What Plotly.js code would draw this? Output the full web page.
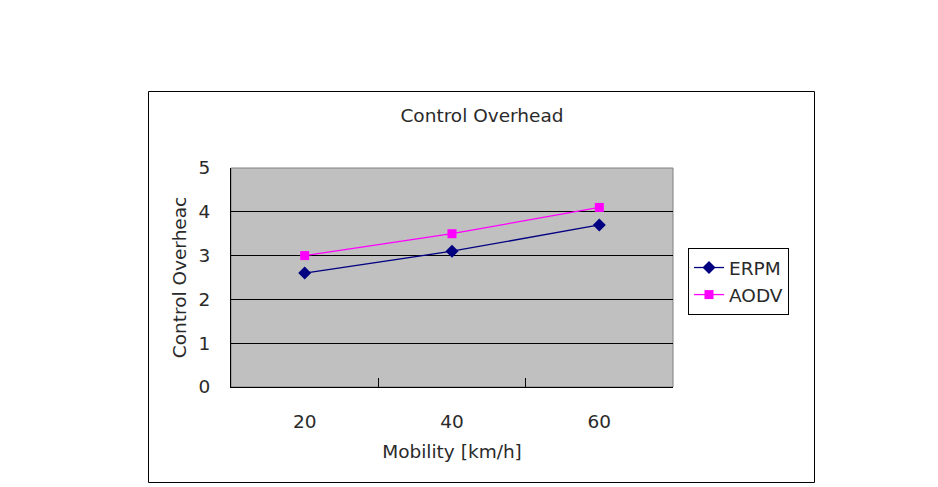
<!DOCTYPE html>
<html>
<head>
<meta charset="utf-8">
<script src="https://cdn.plot.ly/plotly-3.0.1.min.js"></script>
<style>html,body{margin:0;padding:0;background:#fff;}#chart{width:938px;height:487px;}</style>
</head>
<body>
<div id="chart"></div>
<script>
const categories = ["20", "40", "60"];
const erpm = [2.6, 3.1, 3.7];
const aodv = [3.0, 3.5, 4.1];
const yTicks = [0, 1, 2, 3, 4, 5];

const FONT = "DejaVu Sans";
const FS = 18.5;
const FC = "#2a2a2a";
const L = 231, R = 673, T = 168, B = 387, W = 938, H = 487;
const pw = R - L, ph = B - T;
const px = v => (v - L) / pw;
const py = v => (B - v) / ph;

const traces = [
  {
    x: categories, y: erpm, name: "ERPM", type: "scatter", mode: "lines+markers",
    line: {color: "#000080", width: 1.3},
    marker: {symbol: "diamond", size: 10, color: "#000080"}
  },
  {
    x: categories, y: aodv, name: "AODV", type: "scatter", mode: "lines+markers",
    line: {color: "#ff00ff", width: 1.3},
    marker: {symbol: "square", size: 9, color: "#ff00ff"}
  }
];

const layout = {
  width: W, height: H,
  margin: {l: L, r: W - R, t: T, b: H - B, pad: 0},
  paper_bgcolor: "#ffffff",
  plot_bgcolor: "#c0c0c0",
  font: {family: FONT, size: FS, color: FC},
  showlegend: true,
  title: {text: "Control Overhead", font: {family: FONT, size: FS, color: FC},
          xref: "paper", x: px(482), xanchor: "center", yref: "container", y: 1 - 116 / H, yanchor: "middle"},
  xaxis: {
    type: "category", range: [-0.5, 2.5],
    tickson: "boundaries", ticks: "inside", ticklen: 9, tickcolor: "#000", tickwidth: 1,
    showgrid: false, showline: true, linecolor: "#000", linewidth: 1,
    ticklabelstandoff: 18,
    title: {text: "Mobility [km/h]", font: {family: FONT, size: FS, color: FC}, standoff: 13},
    fixedrange: true
  },
  yaxis: {
    range: [0, 5], tickvals: yTicks, ticktext: yTicks.map(String),
    showgrid: true, gridcolor: "#000", gridwidth: 1, zeroline: false,
    showline: true, linecolor: "#000", linewidth: 1, ticks: "",
    ticklabelstandoff: 16,
    title: {text: "Control Overheac", font: {family: FONT, size: FS, color: FC}, standoff: 7},
    fixedrange: true
  },
  legend: {
    x: px(688), xanchor: "left", y: py(248), yanchor: "top",
    bordercolor: "#000", borderwidth: 1, bgcolor: "#fff",
    font: {family: FONT, size: FS, color: FC},
    tracegroupgap: 0, itemwidth: 30
  },
  shapes: [
    {type: "rect", xref: "paper", yref: "paper", x0: 0, x1: 1, y0: 0, y1: 1,
     line: {color: "#808080", width: 1}, layer: "below"},
    {type: "rect", xref: "paper", yref: "paper", x0: px(148.5), x1: px(814.5), y0: py(482.5), y1: py(91.5),
     line: {color: "#000", width: 1}, fillcolor: "rgba(0,0,0,0)"}
  ]
};

Plotly.newPlot("chart", traces, layout, {displayModeBar: false, staticPlot: true});
</script>
</body>
</html>
